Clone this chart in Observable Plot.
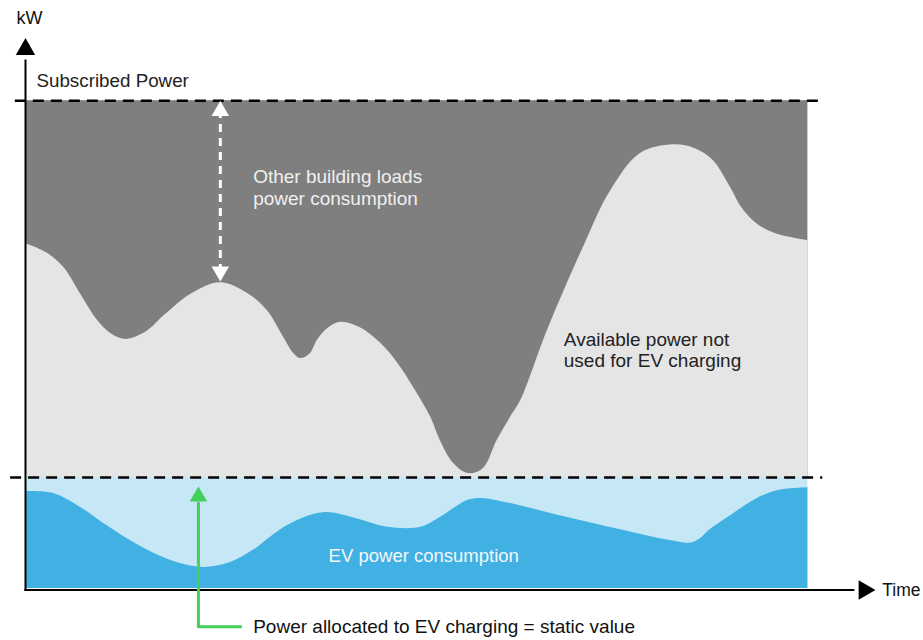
<!DOCTYPE html>
<html>
<head>
<meta charset="utf-8">
<script src="https://cdn.jsdelivr.net/npm/d3@7"></script>
<script src="https://cdn.jsdelivr.net/npm/@observablehq/plot@0.6"></script>
<style>
  html, body { margin: 0; padding: 0; background: #fff; }
  #chart svg { display: block; overflow: visible; }
</style>
</head>
<body>
<div id="chart"></div>
<script>
// ---- data ----
const subscribedPower = 99.7;   // kW
const evAllocation = 22.7;      // kW (static value)
const timeStart = 0, timeEnd = 100;

// boundary between other building loads (above) and available power (below)
const availTime = [0, 2.8, 4.9, 7.0, 9.2, 10.9, 12.8, 15.3, 17.9, 21.1, 24.9, 28.4, 30.9, 33.0, 34.3, 35.2, 36.4, 37.3, 38.6, 40.3, 42.8, 45.4, 47.6, 49.6, 51.8, 53.0, 54.7, 56.6, 58.5, 60.3, 62.0, 63.3, 66.7, 71.3, 74.8, 78.6, 82.8, 85.6, 87.9, 90.1, 91.6, 93.6, 96.1, 100];
const availValue = [70.5, 68.5, 65.6, 60.3, 54.8, 52.1, 50.9, 52.3, 56.0, 60.1, 62.5, 60.3, 56.8, 51.3, 48.0, 47.0, 48.0, 50.7, 53.1, 54.4, 53.3, 50.1, 46.0, 41.1, 35.0, 30.3, 25.6, 23.5, 24.5, 30.3, 35.0, 38.4, 52.7, 69.7, 81.3, 88.9, 90.7, 89.9, 87.5, 82.0, 77.7, 74.4, 72.4, 71.1];

// EV power consumption
const evTime = [0, 3.6, 7.0, 10.0, 13.4, 16.4, 19.8, 22.8, 26.2, 29.1, 33.5, 38.1, 42.2, 46.3, 50.5, 53.0, 54.7, 56.5, 58.2, 60.7, 69.3, 77.7, 82.4, 85.4, 87.9, 90.5, 93.3, 96.1, 100];
const evValue = [19.8, 19.4, 16.6, 13.3, 9.8, 7.2, 5.1, 4.3, 5.3, 7.8, 12.9, 15.5, 14.3, 12.5, 12.5, 14.5, 16.3, 18.0, 18.4, 17.8, 14.5, 11.4, 9.8, 9.4, 12.5, 15.3, 18.2, 20.0, 20.6];

// annotation texts
const otherLoadsLines = ["Other building loads", "power consumption"];
const availableLines = ["Available power not", "used for EV charging"];
const evLabel = "EV power consumption";
const allocLabel = "Power allocated to EV charging = static value";
const yAxisLabel = "kW";
const xAxisLabel = "Time";
const subscribedLabel = "Subscribed Power";

// ---- build tables ----
const avail = availTime.map((t, i) => ({t, v: availValue[i]}));
const ev = evTime.map((t, i) => ({t, v: evValue[i]}));

const sans = "Liberation Sans, Arial, sans-serif";
const narrow = "Liberation Sans Narrow, Liberation Sans, Arial, sans-serif";

const chart = Plot.plot({
  width: 923,
  height: 640,
  marginLeft: 25,
  marginRight: 53,
  marginTop: 40,
  marginBottom: 52,
  x: {domain: [0, 108], axis: null},
  y: {domain: [0, 112], axis: null},
  style: {fontFamily: sans, background: "#fff"},
  marks: [
    // dark grey: other building loads
    Plot.rect([0], {x1: timeStart, x2: timeEnd, y1: evAllocation, y2: subscribedPower, fill: "#7f7f7f"}),
    // light grey: available power
    Plot.areaY(avail, {x: "t", y1: evAllocation, y2: "v", fill: "#e5e5e5", curve: "catmull-rom"}),
    // light blue: allocation band
    Plot.rect([0], {x1: timeStart, x2: timeEnd, y1: 0, y2: evAllocation, fill: "#c6e7f6"}),
    // blue: EV consumption
    Plot.areaY(ev, {x: "t", y1: 0, y2: "v", fill: "#41b1e4", curve: "catmull-rom"}),
    // dashed reference lines
    Plot.ruleY([subscribedPower], {x1: -1.3, x2: 101.9, stroke: "#000", strokeWidth: 2.5, strokeDasharray: "11,7"}),
    Plot.ruleY([evAllocation], {x1: -1.9, x2: 101.9, stroke: "#000", strokeWidth: 2.5, strokeDasharray: "11,7"}),
    // axes
    Plot.ruleX([0], {y1: -0.4, y2: 108, stroke: "#000", strokeWidth: 2}),
    Plot.ruleY([-0.3], {x1: -0.1, x2: 106, stroke: "#000", strokeWidth: 2}),
    Plot.dot([{x: 0, y: 110.2}], {x: "x", y: "y", symbol: "triangle", r: 7.2, fill: "#000", stroke: "none"}),
    Plot.dot([{x: 107.2, y: -0.3}], {x: "x", y: "y", symbol: "triangle", r: 7.2, rotate: 90, fill: "#000", stroke: "none"}),
    // white double arrow
    Plot.ruleX([24.9], {y1: 64.6, y2: 97.5, stroke: "#fff", strokeWidth: 3, strokeDasharray: "8,6"}),
    Plot.dot([{x: 24.9, y: 97.6}], {x: "x", y: "y", symbol: "triangle", r: 6.5, fill: "#fff", stroke: "none"}),
    Plot.dot([{x: 24.9, y: 64.8}], {x: "x", y: "y", symbol: "triangle", r: 6.5, rotate: 180, fill: "#fff", stroke: "none"}),
    // green pointer
    Plot.line([{x: 22.1, y: 17.5}, {x: 22.1, y: -7.8}, {x: 27.5, y: -7.8}], {x: "x", y: "y", stroke: "#43cf5b", strokeWidth: 3}),
    Plot.dot([{x: 22.1, y: 18.8}], {x: "x", y: "y", symbol: "triangle", r: 6.5, fill: "#43cf5b", stroke: "none"}),
    // texts
    Plot.text([yAxisLabel], {x: 0.5, y: 116.5, text: d => d, fontSize: 18, fill: "#111"}),
    Plot.text([subscribedLabel], {x: 1.4, y: 103.7, text: d => d, textAnchor: "start", fontSize: 18.8, fill: "#222"}),
    Plot.text([xAxisLabel], {x: 109.5, y: -0.4, text: d => d, textAnchor: "start", fontSize: 17.5, fontFamily: narrow, fill: "#111"}),
    Plot.text(otherLoadsLines, {x: 29.1, y: (d, i) => [84.1, 79.6][i], text: d => d, textAnchor: "start", fontSize: 19, fill: "#f0f0f0"}),
    Plot.text(availableLines, {x: 68.8, y: (d, i) => [50.8, 46.5][i], text: d => d, textAnchor: "start", fontSize: 19, fill: "#222"}),
    Plot.text([evLabel], {x: 50.9, y: 6.7, text: d => d, fontSize: 18.5, fontFamily: narrow, fill: "#f4f8fb"}),
    Plot.text([allocLabel], {x: 29.1, y: -7.8, text: d => d, textAnchor: "start", fontSize: 19, fontFamily: narrow, fill: "#111"})
  ]
});
document.getElementById("chart").appendChild(chart);
</script>
</body>
</html>
